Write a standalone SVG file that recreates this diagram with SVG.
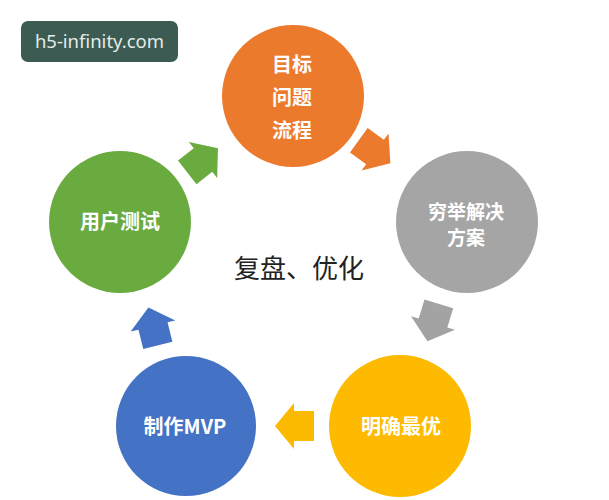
<svg xmlns="http://www.w3.org/2000/svg" width="609" height="500" viewBox="0 0 609 500">
  <style>
    .lbl { font-family: "Noto Sans CJK SC", "Noto Sans", sans-serif; font-size: 20px; font-weight: bold; fill: #ffffff; text-anchor: middle; dominant-baseline: central; }
    .sm { font-size: 19px; }
    .center { font-family: "Noto Sans CJK SC", sans-serif; font-size: 26px; fill: #222222; text-anchor: middle; dominant-baseline: central; }
    .wm { font-family: "Noto Sans", "Open Sans", sans-serif; font-size: 18.5px; fill: #e6ece8; }
  </style>
  <defs>
    <polygon id="arr" points="-20,-15 0,-15 0,-23 19,0 0,23 0,15 -20,15"/>
  </defs>
  <rect width="609" height="500" fill="#ffffff"/>

  <g id="watermark">
    <rect x="21" y="21" width="157" height="41" rx="7" fill="#3b5b53"/>
    <text class="wm" x="99.5" y="48" text-anchor="middle">h5-infinity.com</text>
  </g>

  <g id="connectors">
    <use href="#arr" fill="#6aab40" transform="translate(203,160) rotate(-38)"/>
    <use href="#arr" fill="#ec7a2d" transform="translate(375,152) rotate(36)"/>
    <use href="#arr" fill="#a3a3a3" transform="translate(433,323) rotate(107)"/>
    <use href="#arr" fill="#fbb900" transform="translate(294,426) rotate(180)"/>
    <use href="#arr" fill="#4572c4" transform="translate(153,326) rotate(-104)"/>
  </g>

  <g id="node-goal">
    <circle cx="293" cy="96" r="71" fill="#ec7a2d"/>
    <text class="lbl" x="292" y="63">目标</text>
    <text class="lbl" x="292" y="96">问题</text>
    <text class="lbl" x="292" y="129">流程</text>
  </g>
  <g id="node-solutions">
    <circle cx="467" cy="222" r="71" fill="#a5a5a5"/>
    <text class="lbl sm" x="466" y="210">穷举解决</text>
    <text class="lbl sm" x="466" y="236">方案</text>
  </g>
  <g id="node-optimal">
    <circle cx="400" cy="426" r="71" fill="#fdba00"/>
    <text class="lbl" x="401" y="425">明确最优</text>
  </g>
  <g id="node-mvp">
    <circle cx="186" cy="426" r="70" fill="#4472c4"/>
    <text class="lbl" x="185" y="425">制作MVP</text>
  </g>
  <g id="node-test">
    <circle cx="120" cy="222" r="71" fill="#6aab40"/>
    <text class="lbl" x="120" y="220">用户测试</text>
  </g>
  <g id="center-label">
    <text class="center" x="299" y="266">复盘、优化</text>
  </g>
</svg>
